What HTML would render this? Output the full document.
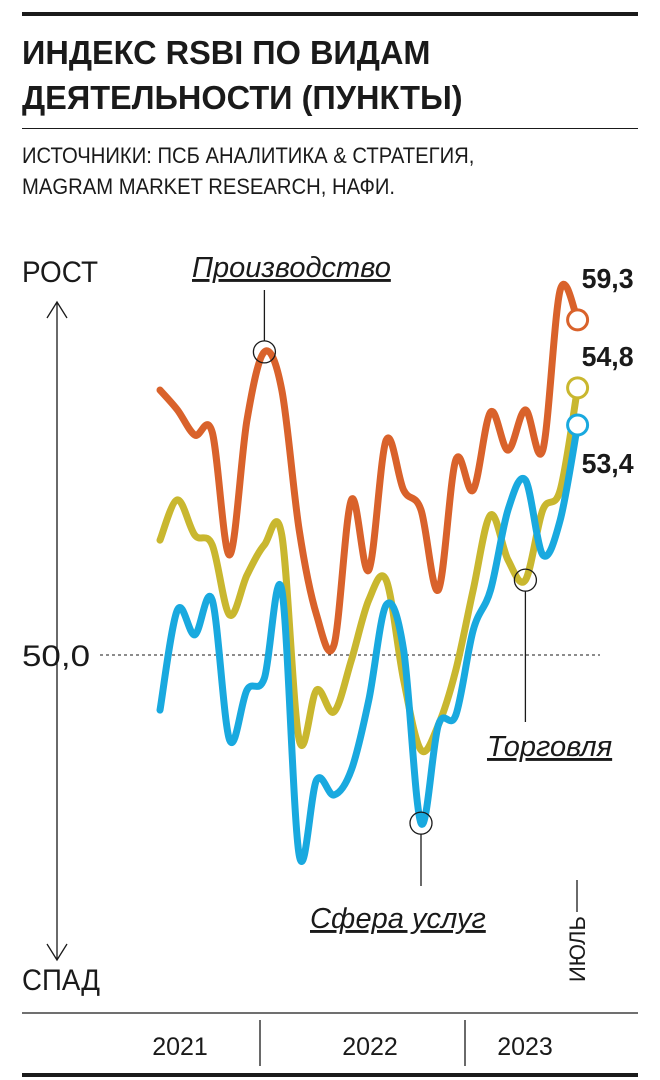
<!DOCTYPE html>
<html><head><meta charset="utf-8">
<style>
body{margin:0;background:#fff;}
#wrap{position:relative;width:660px;height:1080px;overflow:hidden;font-family:"Liberation Sans Narrow","Liberation Sans",sans-serif;color:#1a1a1a;}
.t{position:absolute;white-space:nowrap;transform-origin:0 0;}
</style></head>
<body>
<div id="wrap">
<div class="t" style="left:22px;top:12px;width:616px;height:4px;background:#1a1a1a"></div>
<div class="t" style="left:22px;top:30px;font-size:33px;font-weight:bold;line-height:45px;transform:scaleX(0.985)">ИНДЕКС RSBI ПО ВИДАМ<br>ДЕЯТЕЛЬНОСТИ (ПУНКТЫ)</div>
<div class="t" style="left:22px;top:128px;width:616px;height:1px;background:#1a1a1a"></div>
<div class="t" style="left:22px;top:140px;font-size:22px;line-height:31px;transform:scaleX(0.92)">ИСТОЧНИКИ: ПСБ АНАЛИТИКА &amp; СТРАТЕГИЯ,<br>MAGRAM MARKET RESEARCH, НАФИ.</div>
<svg width="660" height="1080" style="position:absolute;left:0;top:0" id="svg"></svg>
</div>
<script>
const months = ["2021-07","2021-08","2021-09","2021-10","2021-11","2021-12","2022-01","2022-02","2022-03","2022-04","2022-05","2022-06","2022-07","2022-08","2022-09","2022-10","2022-11","2022-12","2023-01","2023-02","2023-03","2023-04","2023-05","2023-06","2023-07"];
const production = [57.36,56.81,56.11,56.19,52.78,56.53,58.42,57.36,53.47,51.11,50.28,54.31,52.36,55.97,54.58,54.03,51.81,55.42,54.58,56.75,55.69,56.81,55.69,60.14,59.31];
const trade = [53.19,54.31,53.33,53.06,51.11,52.22,53.06,53.33,47.64,49.03,48.42,49.86,51.53,52.08,49.31,47.36,48.06,49.58,51.81,53.89,52.64,52.08,54.03,54.58,57.42];
const services = [48.47,51.25,50.56,51.53,47.64,49.03,49.36,51.81,44.44,46.53,46.11,46.81,48.75,51.39,50.14,45.33,48.06,48.33,50.69,51.81,54.03,54.86,52.78,53.75,56.39];
const endLabels = ["59,3","54,8","53,4"];
const years = ["2021","2022","2023"];

const NS="http://www.w3.org/2000/svg";
const svg=document.getElementById('svg');
const x=i=>160+i*17.4;
const y=v=>655-(v-50)*36;
function mk(tag,attrs,parent){const e=document.createElementNS(NS,tag);for(const k in attrs)e.setAttribute(k,attrs[k]);(parent||svg).appendChild(e);return e;}
function txt(s,attrs){const e=mk('text',attrs);e.textContent=s;return e;}
const FF='Liberation Sans Narrow,Liberation Sans,sans-serif';

let a=mk('path',{d:'M57 302 L57 960 M47 318 L57 302 L67 318 M47 944 L57 960 L67 944',stroke:'#1a1a1a','stroke-width':1.3,fill:'none'});

let t=txt('РОСТ',{x:22,y:282,'font-size':30,fill:'#1a1a1a','font-family':FF,textLength:76,lengthAdjust:'spacingAndGlyphs'});

t=txt('СПАД',{x:22,y:990,'font-size':30,fill:'#1a1a1a','font-family':FF,textLength:78,lengthAdjust:'spacingAndGlyphs'});

t=txt('50,0',{x:22,y:666,'font-size':30,fill:'#1a1a1a','font-family':FF,textLength:68,lengthAdjust:'spacingAndGlyphs'});

let bl=mk('line',{x1:100,x2:600,y1:y(50),y2:y(50),stroke:'#1a1a1a','stroke-width':1,'stroke-dasharray':'3,3'});


let ax=mk('line',{x1:22,x2:638,y1:1013,y2:1013,stroke:'#1a1a1a','stroke-width':1.3});

[260,465].forEach(xx=>{const l=mk('line',{x1:xx,x2:xx,y1:1020,y2:1066,stroke:'#1a1a1a','stroke-width':1.3});
});
const yx=[180,370,525];
years.forEach((s,i)=>{const e=txt(s,{x:yx[i],y:1055,'font-size':25,'text-anchor':'middle',fill:'#1a1a1a','font-family':FF});
});
let br=mk('rect',{x:22,y:1073,width:616,height:4,fill:'#1a1a1a'});

let jl=mk('line',{x1:577,x2:577,y1:880,y2:912,stroke:'#1a1a1a','stroke-width':1.3});

let jt=txt('ИЮЛЬ',{x:0,y:0,'font-size':22,fill:'#1a1a1a',transform:'translate(585 982) rotate(-90)','font-family':FF});


function pathOf(vals){
  const p=vals.map((v,i)=>[x(i),y(v)]);
  let d='M'+p[0][0]+' '+p[0][1];
  for(let i=0;i<p.length-1;i++){
    const p0=p[i-1]||p[i],p1=p[i],p2=p[i+1],p3=p[i+2]||p2;
    const c1=[p1[0]+(p2[0]-p0[0])/6,p1[1]+(p2[1]-p0[1])/6];
    const c2=[p2[0]-(p3[0]-p1[0])/6,p2[1]-(p3[1]-p1[1])/6];
    d+=` C${c1[0]} ${c1[1]} ${c2[0]} ${c2[1]} ${p2[0]} ${p2[1]}`;
  }
  return d;
}
const series=[[production,'#d9622b','line-production'],[trade,'#c9b72f','line-trade'],[services,'#19a9df','line-services']];
series.forEach(([vals,c,n])=>{
  const l=mk('path',{d:pathOf(vals),stroke:c,'stroke-width':7,fill:'none','stroke-linecap':'round','stroke-linejoin':'round'});
  
  
});
const endDy=[-32,-22,48];
series.forEach(([vals,c,n],k)=>{
  const i=vals.length-1;
  const e=mk('circle',{cx:x(i),cy:y(vals[i]),r:10,fill:'#fff',stroke:c,'stroke-width':3});
  
  
  const tt=txt(endLabels[k],{x:x(i)+4,y:y(vals[i])+endDy[k],'font-size':28,'font-weight':'bold',fill:'#1a1a1a','font-family':FF,textLength:52,lengthAdjust:'spacingAndGlyphs'});
  
  
});
const ann=[[production,6,'Производство',192,277,-1,290],[trade,21,'Торговля',487,756,1,722],[services,15,'Сфера услуг',310,928,1,886]];
ann.forEach(([vals,i,s,lx,ly,dir,ty])=>{
  const cx=x(i),cy=y(vals[i]);
  const ln=mk('line',{x1:cx,x2:cx,y1:dir<0?ty:cy+11,y2:dir<0?cy-11:ty,stroke:'#1a1a1a','stroke-width':1.3});
  
  const c=mk('circle',{cx:cx,cy:cy,r:11,fill:'none',stroke:'#1a1a1a','stroke-width':1.3});
  
  const tt=txt(s,{x:lx,y:ly,'font-size':29,'font-style':'italic','text-decoration':'underline',fill:'#1a1a1a','font-family':FF});
  
});
</script>
</body></html>
